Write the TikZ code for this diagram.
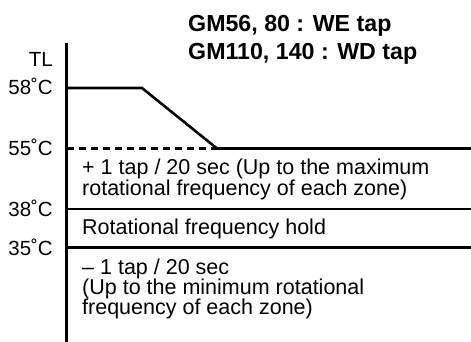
\documentclass[tikz,border=0pt]{standalone}
\usepackage{fontspec}
\setmainfont{Liberation Sans}
\begin{document}
\begin{tikzpicture}[x=1pt,y=-1pt,
  lbl/.style={anchor=base east,inner sep=0pt,font=\fontsize{20.5}{21}\selectfont},
  txt/.style={anchor=base west,inner sep=0pt,font=\fontsize{21.5}{22}\selectfont},
  ttl/.style={anchor=base west,inner sep=0pt,font=\fontsize{23.2}{28}\selectfont\bfseries},
  axisline/.style={line width=2.8pt},
  hline/.style={line width=2.6pt},
  dline/.style={line width=2.6pt,dash pattern=on 7pt off 5pt}]
\useasboundingbox (0,0) rectangle (471,342);
\coordinate (axtop) at (66.5,43);
\coordinate (axbot) at (66.5,342);
\coordinate (a58) at (67,88);
\coordinate (k1) at (142,88);
\coordinate (k2) at (217,148.5);
\coordinate (a55) at (67,148.5);
\coordinate (r55) at (471,148.5);
\coordinate (a38) at (67,209);
\coordinate (r38) at (471,209);
\coordinate (a35) at (67,247.5);
\coordinate (r35) at (471,247.5);
\draw[axisline] (axtop) -- (axbot);
\draw[hline,line join=miter] (a58) -- (k1) -- (k2) -- (r55);
\draw[dline] (a55) -- (k2);
\draw[hline] (a38) -- (r38);
\draw[hline] (a35) -- (r35);
\node[ttl] (t1) at (188,32) {GM56, 80 : WE tap};
\node[ttl] (t2) at (188,60) {GM110, 140 : WD tap};
\node[lbl] (tl) at (53,67) {TL};
\node[lbl] (l58) at (53,95) {58˚C};
\node[lbl] (l55) at (53,155) {55˚C};
\node[lbl] (l38) at (53,216) {38˚C};
\node[lbl] (l35) at (53,255) {35˚C};
\node[txt] (up1) at (82,174) {+ 1 tap / 20 sec (Up to the maximum};
\node[txt] (up2) at (82,195) {rotational frequency of each zone)};
\node[txt] (hold) at (82,234) {Rotational frequency hold};
\node[txt] (dn1) at (82,274) {– 1 tap / 20 sec};
\node[txt] (dn2) at (82,294) {(Up to the minimum rotational};
\node[txt] (dn3) at (82,314) {frequency of each zone)};
\end{tikzpicture}
\end{document}
